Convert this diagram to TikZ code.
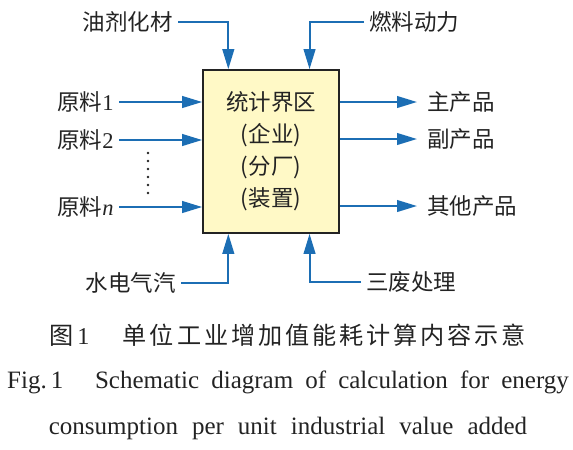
\documentclass[tikz,border=0pt]{standalone}
\usepackage{fontspec}
\setmainfont{Liberation Serif}
\newfontfamily\cjk{Noto Sans CJK SC}
\newfontfamily\cjkcap[LetterSpace=12]{Noto Sans CJK SC}
\usepackage{tikz}
\usetikzlibrary{arrows.meta,positioning,calc}
\definecolor{flowblue}{RGB}{28,110,180}
\definecolor{boxfill}{RGB}{255,249,198}
\definecolor{inkgray}{RGB}{35,35,35}

\begin{document}
\begin{tikzpicture}[
    x=0.6pt, y=-0.6pt,
    sysbox/.style={draw=inkgray, line width=1pt, fill=boxfill, minimum width=81.6pt, minimum height=97.8pt, align=center, font=\fontsize{13.5}{19.2}\selectfont\cjk, text=inkgray},
    inlabel/.style={inner xsep=3pt, inner ysep=0pt, text=inkgray, font=\fontsize{13.5}{15}\selectfont},
    outlabel/.style={inlabel, inner xsep=6pt},
    flow/.style={-{Triangle[length=12pt,width=7pt]}, line width=1.2pt, color=flowblue}
]
\useasboundingbox (0,0) rectangle (573,449);

% System boundary box
\node[sysbox] (sys) at (271,151.5) {统计界区\\(企业)\\(分厂)\\(装置)};
\coordinate (topL) at ($(sys.north west)!0.19!(sys.north east)$);
\coordinate (topR) at ($(sys.north west)!0.78!(sys.north east)$);
\coordinate (botL) at ($(sys.south west)!0.19!(sys.south east)$);
\coordinate (botR) at ($(sys.south west)!0.78!(sys.south east)$);

% Inputs
\node[inlabel, anchor=east] (oil) at (178,22) {\cjk 油剂化材};
\node[inlabel, anchor=west] (fuel) at (364,22) {\cjk 燃料动力};
\node[inlabel, anchor=east] (raw1) at (119,102) {{\cjk 原料}1};
\node[inlabel, anchor=east] (raw2) at (119,140) {{\cjk 原料}2};
\node[inlabel, anchor=east] (rawn) at (119,207) {{\cjk 原料}\textit{n}};
\node[inlabel, anchor=east] (water) at (181,283) {\cjk 水电气汽};
\node[inlabel, anchor=west] (waste) at (361,282) {\cjk 三废处理};
\foreach \k in {0,...,5}
    \fill[inkgray] (148,153+8*\k) circle (1.3);

% Outputs
\node[outlabel, anchor=west] (prod1) at (417,102) {\cjk 主产品};
\node[outlabel, anchor=west] (prod2) at (417,139) {\cjk 副产品};
\node[outlabel, anchor=west] (prod3) at (417,206) {\cjk 其他产品};

\draw[flow] (oil.east) -| (topL);
\draw[flow] (fuel.west) -| (topR);
\draw[flow] (water.east) -| (botL);
\draw[flow] (waste.west) -| (botR);
\draw[flow] (raw1.east) -- (raw1.east -| sys.west);
\draw[flow] (raw2.east) -- (raw2.east -| sys.west);
\draw[flow] (rawn.east) -- (rawn.east -| sys.west);
\draw[flow] (sys.east |- prod1.west) -- (prod1.west);
\draw[flow] (sys.east |- prod2.west) -- (prod2.west);
\draw[flow] (sys.east |- prod3.west) -- (prod3.west);

% Caption
\node[text=inkgray, font=\fontsize{14.5}{16}\selectfont] (capzh) at (288,335) {{\cjkcap 图}\hspace{2pt}1\hspace{20pt}{\cjkcap 单位工业增加值能耗计算内容示意}};
\node[text=inkgray, font=\fontsize{15}{18}\selectfont] (capen1) at (288,382) {\makebox[337pt][s]{Fig.\,1\hspace{19pt}Schematic diagram of calculation for energy}};
\node[text=inkgray, font=\fontsize{15}{18}\selectfont] (capen2) at (288,428) {\makebox[287pt][s]{consumption per unit industrial value added}};

\end{tikzpicture}
\end{document}
